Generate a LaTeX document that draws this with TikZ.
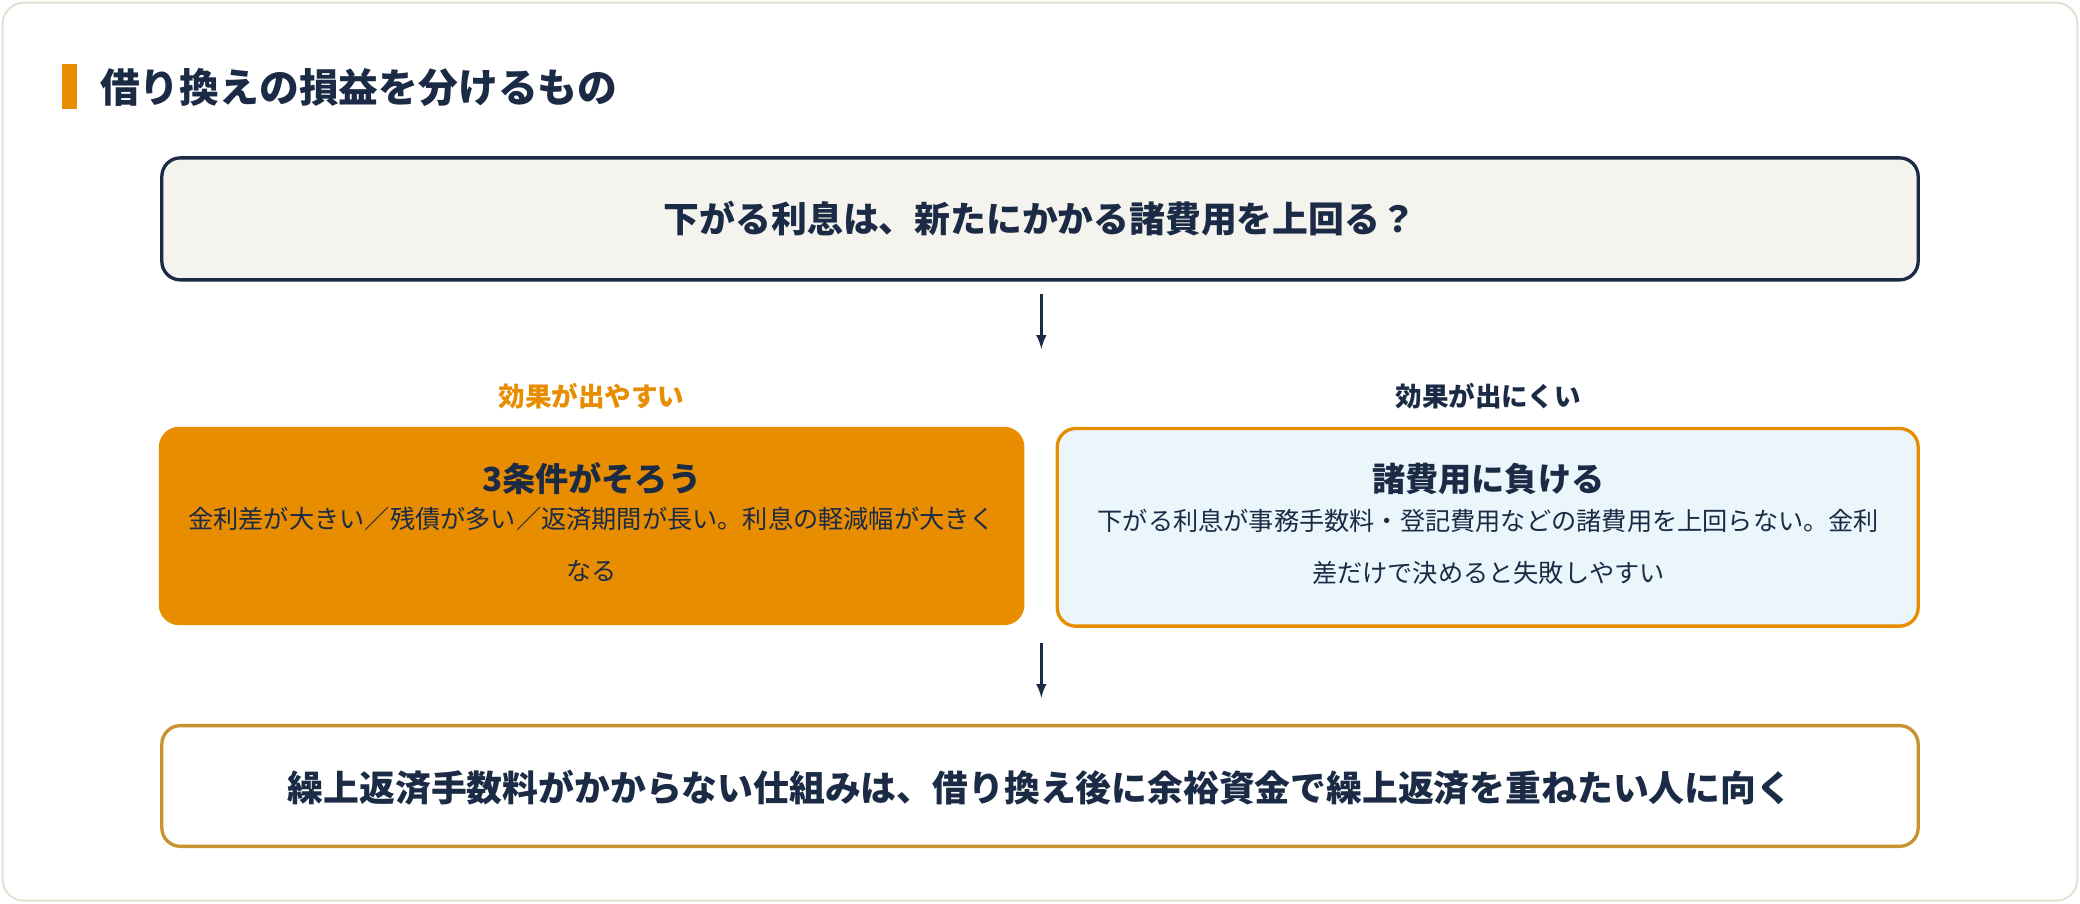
\documentclass[tikz,border=0pt]{standalone}
\usepackage{fontspec}
\setmainfont{Noto Sans CJK JP}
\usetikzlibrary{positioning}
\definecolor{navy}{HTML}{1B2B45}
\definecolor{accent}{HTML}{E88D00}
\definecolor{gold}{HTML}{C8922E}
\definecolor{paper}{HTML}{F5F3EE}
\definecolor{ice}{HTML}{EAF6FB}
\definecolor{frame}{HTML}{E4E0D2}
\tikzset{
	box/.style={rounded corners=14pt, line width=2.5pt, inner sep=0pt},
	bodytext/.style={font=\fontsize{19}{39}\selectfont, text=navy, align=center},
	flow/.style={-latex, line width=2.5pt, draw=navy},
}
\begin{document}
\begin{tikzpicture}[x=1pt, y=-1pt]
		\useasboundingbox (0,0) rectangle (1568,681);
		\draw[frame, line width=1.5pt, rounded corners=16pt, fill=white] (2,2) rectangle (1566,679);
		
		\fill[accent] (47,48) rectangle (58,82);
		\node[anchor=west, text=navy, font=\fontsize{30}{36}\selectfont\bfseries] (title) at (72,66) {借り換えの損益を分けるもの};
		
		\draw[box, draw=navy, fill=paper] (122,119) rectangle (1446,211);
		\node[text=navy, font=\fontsize{27}{32}\selectfont\bfseries] (question) at (784,165) {下がる利息は、新たにかかる諸費用を上回る？};
		
		\node[text=accent, font=\fontsize{20}{24}\selectfont\bfseries] (goodlabel) at (446,299) {効果が出やすい};
		\node[text=navy, font=\fontsize{20}{24}\selectfont\bfseries] (badlabel) at (1122,299) {効果が出にくい};
		
		\draw[box, draw=accent, fill=accent] (121,323) rectangle (771,470);
		\node[text=navy, font=\fontsize{25}{30}\selectfont\bfseries] (good) at (446,361) {3条件がそろう};
		\node[bodytext, below=2pt of good] (goodbody) {金利差が大きい／残債が多い／返済期間が長い。利息の軽減幅が大きく\\なる};
		
		\draw[box, draw=accent, fill=ice] (797,323) rectangle (1446,472);
		\node[text=navy, font=\fontsize{25}{30}\selectfont\bfseries] (bad) at (1122,361) {諸費用に負ける};
		\node[bodytext, below=4pt of bad] (badbody) {下がる利息が事務手数料・登記費用などの諸費用を上回らない。金利\\差だけで決めると失敗しやすい};
		
		\draw[box, draw=gold, fill=white] (122,547) rectangle (1446,638);
		\node[text=navy, font=\fontsize{27}{32}\selectfont\bfseries] (advice) at (784,594) {繰上返済手数料がかからない仕組みは、借り換え後に余裕資金で繰上返済を重ねたい人に向く};
		
		\coordinate (top1) at (785,222);
		\coordinate (end1) at (785,263);
		\coordinate (top2) at (785,485);
		\coordinate (end2) at (785,526);
		\draw[flow] (top1) -- (end1);
		\draw[flow] (top2) -- (end2);
	\end{tikzpicture}
\end{document}
